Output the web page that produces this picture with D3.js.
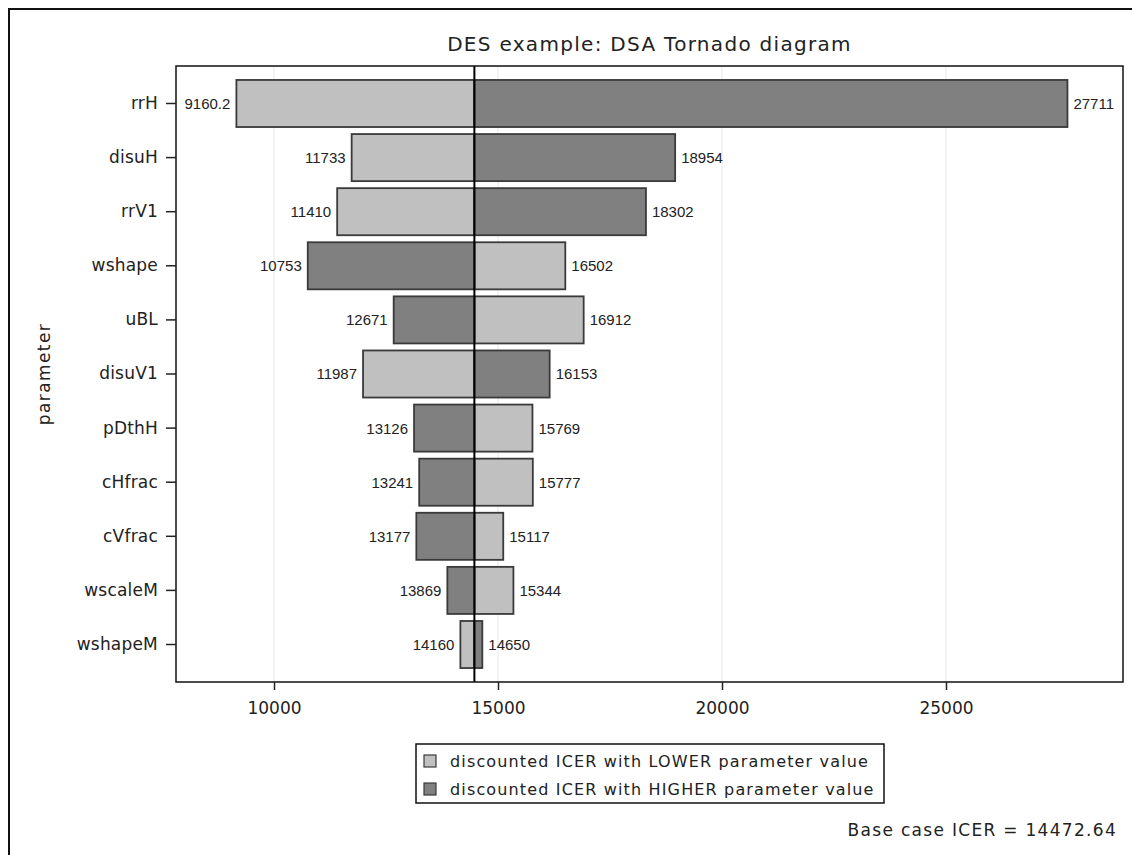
<!DOCTYPE html>
<html><head><meta charset="utf-8">
<script src="https://cdn.jsdelivr.net/npm/d3@7"></script>
<style>
html,body{margin:0;padding:0;background:#fff;}
svg{display:block;}
text{font-family:"DejaVu Sans",sans-serif;fill:#222;}
</style></head>
<body><svg id="c" width="1132" height="855"></svg>
<script>
const parameters = ["rrH","disuH","rrV1","wshape","uBL","disuV1","pDthH","cHfrac","cVfrac","wscaleM","wshapeM"];
const lowerICER  = [9160.2,11733,11410,16502,16912,11987,15769,15777,15117,15344,14160];
const higherICER = [27711,18954,18302,10753,12671,16153,13126,13241,13177,13869,14650];
const baseICER = 14472.64;
const xTicks = [10000,15000,20000,25000];
const xDomain = [7812, 28951];
const title = "DES example: DSA Tornado diagram";
const yTitle = "parameter";
const legendLabels = ["discounted ICER with LOWER parameter value","discounted ICER with HIGHER parameter value"];
const colors = ["#c0c0c0","#808080"];

const svg = d3.select("#c");
const m = {l:176, r:1123, t:66, b:682};

// outer frame
svg.append("rect").attr("x",9).attr("y",9).attr("width",1200).attr("height",1000)
  .attr("fill","none").attr("stroke","#111").attr("stroke-width",2);

const x = d3.scaleLinear().domain(xDomain).range([m.l, m.r]);
const y = d3.scaleBand().domain(parameters).range([m.t, m.b]).paddingInner(0.13).paddingOuter(0.258);

// grid
svg.append("g").selectAll("line").data(xTicks).join("line")
  .attr("x1",d=>x(d)).attr("x2",d=>x(d)).attr("y1",m.t).attr("y2",m.b)
  .attr("stroke","#e8e8e8").attr("stroke-width",1);

// bars
const rows = parameters.map((p,i)=>({p, lo:lowerICER[i], hi:higherICER[i]}));
const segs = [];
rows.forEach(r=>{
  segs.push({p:r.p, v:r.lo, k:0});
  segs.push({p:r.p, v:r.hi, k:1});
});
svg.append("g").selectAll("rect").data(segs).join("rect")
  .attr("x",d=>Math.min(x(d.v), x(baseICER)))
  .attr("width",d=>Math.abs(x(d.v)-x(baseICER)))
  .attr("y",d=>y(d.p)).attr("height",y.bandwidth())
  .attr("fill",d=>colors[d.k]).attr("stroke","#3a3a3a").attr("stroke-width",1.8);

// value labels
svg.append("g").selectAll("text").data(segs).join("text")
  .attr("x",d=> d.v < baseICER ? x(d.v)-6 : x(d.v)+6)
  .attr("y",d=>y(d.p)+y.bandwidth()/2)
  .attr("dy","0.36em")
  .attr("text-anchor",d=> d.v < baseICER ? "end":"start")
  .style("font-family","'Liberation Sans',sans-serif")
  .style("font-size","15px")
  .text(d=>String(d.v));

// base line
svg.append("line").attr("x1",x(baseICER)).attr("x2",x(baseICER)).attr("y1",m.t).attr("y2",m.b)
  .attr("stroke","#000").attr("stroke-width",2);

// plot border
svg.append("rect").attr("x",m.l).attr("y",m.t).attr("width",m.r-m.l).attr("height",m.b-m.t)
  .attr("fill","none").attr("stroke","#111").attr("stroke-width",1.5);

// x axis
const xa = svg.append("g").attr("transform",`translate(0,${m.b})`)
  .call(d3.axisBottom(x).tickValues(xTicks).tickFormat(d3.format("d")).tickSize(8).tickPadding(12));
xa.select(".domain").remove();
xa.selectAll("line").attr("stroke","#222").attr("stroke-width",1.5);
xa.selectAll("text").style("font-size","17px").attr("fill","#222");

// y axis
const ya = svg.append("g").attr("transform",`translate(${m.l},0)`)
  .call(d3.axisLeft(y).tickSize(10).tickPadding(8));
ya.select(".domain").remove();
ya.selectAll("line").attr("stroke","#222").attr("stroke-width",1.5);
ya.selectAll("text").style("font-size","17px").style("letter-spacing","0.2px").attr("fill","#222");

// titles
svg.append("text").attr("x",(m.l+m.r)/2).attr("y",51).attr("text-anchor","middle")
  .style("font-size","20px").style("letter-spacing","1.3px").text(title);
svg.append("text").attr("transform",`translate(44,${(m.t+m.b)/2}) rotate(-90)`).attr("text-anchor","middle")
  .attr("dy","0.35em")
  .style("font-size","17px").style("letter-spacing","1.4px").text(yTitle);

// legend
const lg = svg.append("g");
lg.append("rect").attr("x",416).attr("y",744).attr("width",468).attr("height",59)
  .attr("fill","#fff").attr("stroke","#111").attr("stroke-width",1.5);
legendLabels.forEach((t,i)=>{
  const cy = 761 + i*28;
  lg.append("rect").attr("x",424).attr("y",cy-6).attr("width",12).attr("height",12)
    .attr("fill",colors[i]).attr("stroke","#3a3a3a").attr("stroke-width",1.2);
  lg.append("text").attr("x",450).attr("y",cy).attr("dy","0.35em")
    .style("font-size","16px").style("letter-spacing","1.15px").text(t);
});

svg.append("text").attr("x",1117).attr("y",830).attr("dy","0.35em").attr("text-anchor","end")
  .style("font-size","17px").style("letter-spacing","1.3px").text("Base case ICER = 14472.64");
</script></body></html>
